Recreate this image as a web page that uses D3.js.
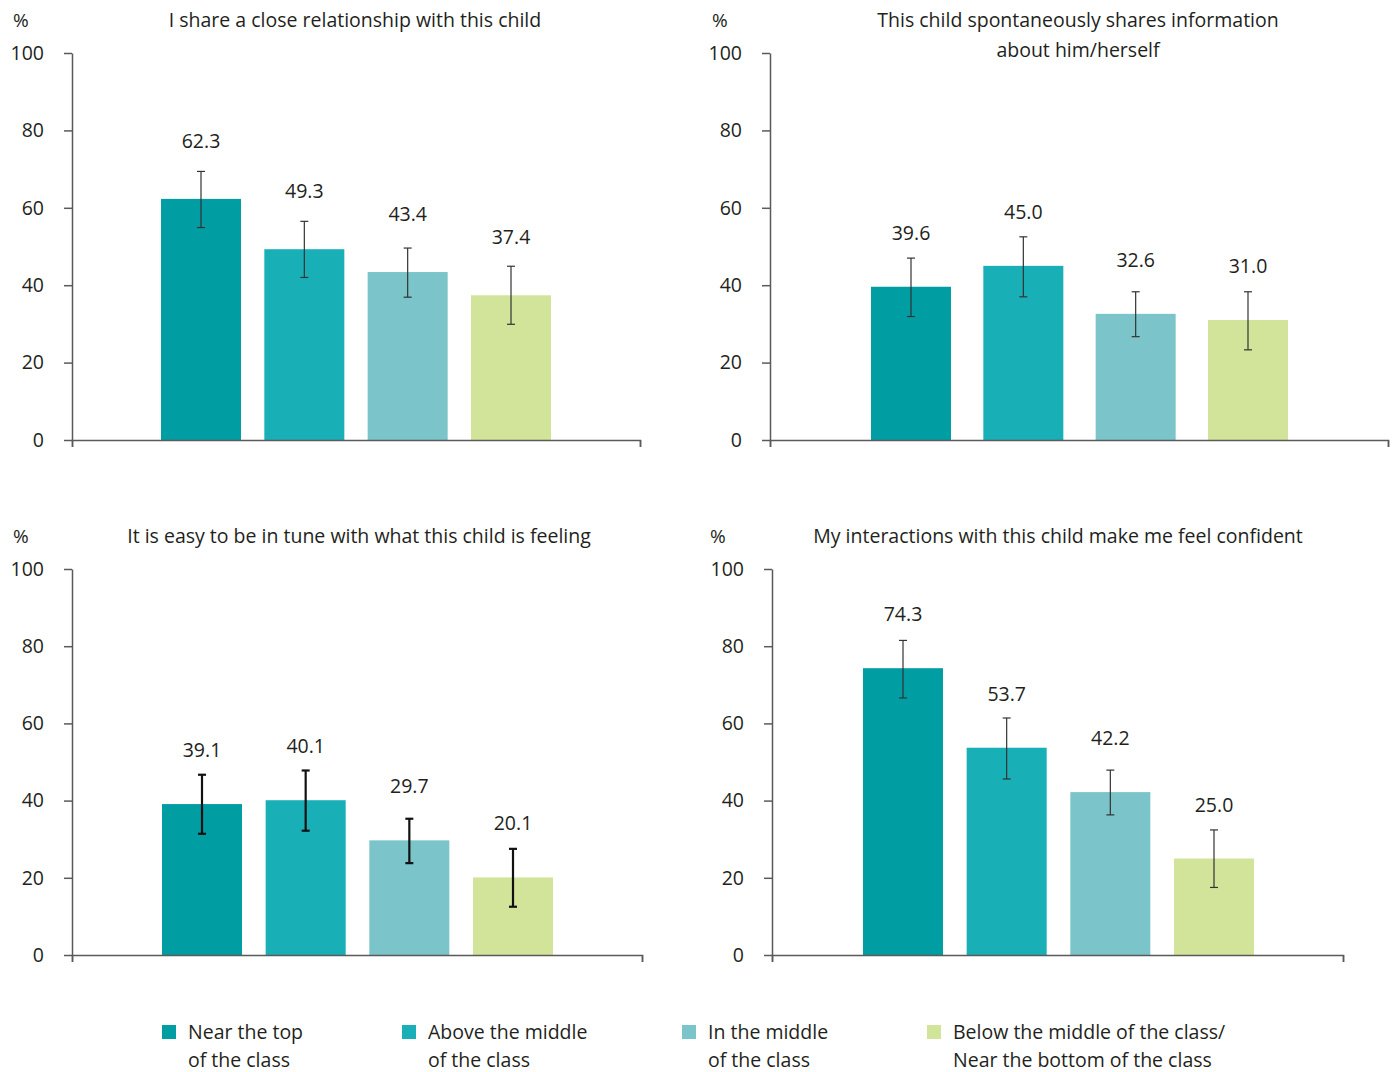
<!DOCTYPE html>
<html>
<head>
<meta charset="utf-8">
<script src="https://cdn.jsdelivr.net/npm/d3@7"></script>
<style>
  body { margin: 0; background: #fff; }
  svg text { font-family: "Open Sans", sans-serif; fill: #231f20; }
</style>
</head>
<body>
<script>
// categories (legend, two lines each)
const categories = [
  ["Near the top", "of the class"],
  ["Above the middle", "of the class"],
  ["In the middle", "of the class"],
  ["Below the middle of the class/", "Near the bottom of the class"]
];
const colours = ["#009da3", "#19afb7", "#7ac4ca", "#d1e49a"];

const titles = [
  ["I share a close relationship with this child"],
  ["This child spontaneously shares information", "about him/herself"],
  ["It is easy to be in tune with what this child is feeling"],
  ["My interactions with this child make me feel confident"]
];

// percentages per panel
const values = [
  [62.3, 49.3, 43.4, 37.4],
  [39.6, 45.0, 32.6, 31.0],
  [39.1, 40.1, 29.7, 20.1],
  [74.3, 53.7, 42.2, 25.0]
];
// confidence interval, low / high
const ciLow = [
  [54.9, 42.0, 36.9, 29.9],
  [31.9, 37.0, 26.7, 23.3],
  [31.4, 32.2, 23.8, 12.5],
  [66.6, 45.6, 36.3, 17.5]
];
const ciHigh = [
  [69.4, 56.5, 49.6, 44.9],
  [47.0, 52.5, 38.3, 38.3],
  [46.7, 47.8, 35.3, 27.5],
  [81.5, 61.4, 47.9, 32.4]
];

const yTicks = [0, 20, 40, 60, 80, 100];

// layout of each panel
const panels = [
  { axisX: 72,  xEnd: 640,  top: 53,  bottom: 440, bars: [161, 551], titleX: 355,  pctX: 13,  labelGap: 51, errW: 1.2, errC: "#333" },
  { axisX: 770, xEnd: 1388, top: 53,  bottom: 440, bars: [871, 1288], titleX: 1078, pctX: 712, labelGap: 47, errW: 1.2, errC: "#333" },
  { axisX: 72,  xEnd: 642,  top: 569, bottom: 955, bars: [162, 553], titleX: 359,  pctX: 13,  labelGap: 47, errW: 2.2, errC: "#111" },
  { axisX: 772, xEnd: 1343, top: 569, bottom: 955, bars: [863, 1254], titleX: 1058, pctX: 710, labelGap: 47, errW: 1.2, errC: "#333" }
];
const barWidth = 80;

const svg = d3.select("body").append("svg")
  .attr("width", 1393)
  .attr("height", 1072);

panels.forEach((p, i) => {
  const g = svg.append("g");

  const span = p.bars[1] - p.bars[0];
  const pad = (span - 4 * barWidth) / (span - barWidth);
  const x = d3.scaleBand()
    .domain(d3.range(4))
    .range(p.bars)
    .paddingInner(pad)
    .paddingOuter(0);

  const y = d3.scaleLinear()
    .domain([0, 100])
    .range([p.bottom, p.top]);

  // y axis
  const yAxis = g.append("g")
    .attr("transform", `translate(${p.axisX},0)`)
    .call(d3.axisLeft(y).tickValues(yTicks).tickSize(8).tickSizeOuter(0).tickPadding(20));
  yAxis.selectAll("text").style("font-size", "19.5px").attr("fill", "#231f20");
  yAxis.selectAll("path, line").attr("stroke", "#5a5a5a").attr("stroke-width", 1.5);

  // bars
  g.selectAll("rect.bar")
    .data(values[i])
    .join("rect")
    .attr("class", "bar")
    .attr("x", (d, j) => x(j))
    .attr("y", d => y(d))
    .attr("width", x.bandwidth())
    .attr("height", d => y(0) - y(d))
    .attr("fill", (d, j) => colours[j]);

  // x axis baseline
  const xl = d3.scaleLinear().domain([0, 1]).range([p.axisX, p.xEnd]);
  const xAxis = g.append("g")
    .attr("transform", `translate(0,${p.bottom})`)
    .call(d3.axisBottom(xl).tickValues([0, 1]).tickSize(7).tickSizeOuter(7).tickFormat(""));
  xAxis.selectAll("path, line").attr("stroke", "#5a5a5a").attr("stroke-width", 1.5);

  // error bars
  const err = g.append("g")
    .attr("stroke", p.errC)
    .attr("stroke-width", p.errW)
    .attr("fill", "none");
  values[i].forEach((v, j) => {
    const cx = x(j) + x.bandwidth() / 2;
    const lo = y(ciLow[i][j]), hi = y(ciHigh[i][j]);
    err.append("line").attr("x1", cx).attr("x2", cx).attr("y1", lo).attr("y2", hi);
    err.append("line").attr("x1", cx - 4).attr("x2", cx + 4).attr("y1", lo).attr("y2", lo);
    err.append("line").attr("x1", cx - 4).attr("x2", cx + 4).attr("y1", hi).attr("y2", hi);
  });

  // value labels
  g.selectAll("text.val")
    .data(values[i])
    .join("text")
    .attr("class", "val")
    .attr("x", (d, j) => x(j) + x.bandwidth() / 2)
    .attr("y", d => y(d) - p.labelGap)
    .attr("text-anchor", "middle")
    .style("font-size", "19.5px")
    .text(d => d.toFixed(1));

  // title
  titles[i].forEach((t, k) => {
    g.append("text")
      .attr("x", p.titleX)
      .attr("y", p.top - 26 + k * 30)
      .attr("text-anchor", "middle")
      .style("font-size", "19.5px")
      .text(t);
  });

  // % unit
  g.append("text")
    .attr("x", p.pctX)
    .attr("y", p.top - 26)
    .style("font-size", "19px")
    .text("%");
});

// legend
const legendX = [162, 402, 682, 927];
const legend = svg.append("g");
categories.forEach((c, j) => {
  legend.append("rect")
    .attr("x", legendX[j])
    .attr("y", 1025)
    .attr("width", 14)
    .attr("height", 14)
    .attr("fill", colours[j]);
  c.forEach((line, k) => {
    legend.append("text")
      .attr("x", legendX[j] + 26)
      .attr("y", 1039 + k * 28)
      .style("font-size", "19.5px")
      .text(line);
  });
});
</script>
</body>
</html>
